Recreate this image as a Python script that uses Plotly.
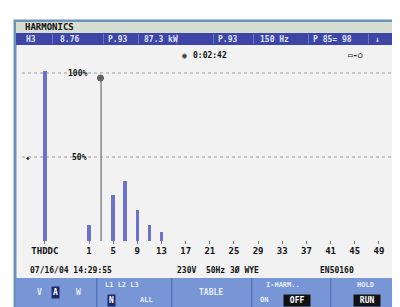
import plotly.graph_objects as go

# ---- data ----
harmonic_order = [-6.3, 1, 5, 7, 9, 11, 13]          # -6.3 = THD/DC slot
harmonic_pct = [101, 9.5, 27.6, 35.9, 18.6, 9.5, 5.4]
cursor_order = 3
cursor_pct = 97
tick_vals = [-6.3, 1, 5, 9, 13, 17, 21, 25, 29, 33, 37, 41, 45, 49]
tick_text = ["THDDC", "1", "5", "9", "13", "17", "21", "25", "29", "33", "37", "41", "45", "49"]
grid_pct = [50, 100]
grid_labels = ["50%", "100%"]

W, H = 400, 307
def px(x, y):
    return x / W, 1 - y / H

FONT = "DejaVu Sans Mono"
fig = go.Figure()

fig.add_trace(go.Bar(
    x=harmonic_order, y=harmonic_pct,
    width=[0.7, 0.6, 0.6, 0.6, 0.6, 0.6, 0.6],
    marker=dict(color="#6d72c6", line=dict(width=0)),
    hoverinfo="skip"))
fig.add_trace(go.Scatter(
    x=[cursor_order, cursor_order], y=[0, cursor_pct], mode="lines",
    line=dict(color="#8a8a8a", width=1.5), hoverinfo="skip"))
fig.add_trace(go.Scatter(
    x=[cursor_order - 0.1], y=[cursor_pct], mode="markers",
    marker=dict(symbol="circle-cross", size=6, color="#777",
                line=dict(color="#555", width=1)), hoverinfo="skip"))

shapes = []
def rect(x0, y0, x1, y1, fill, line=None, lw=0, layer="below"):
    a, b = px(x0, y1)
    c, d = px(x1, y0)
    shapes.append(dict(type="rect", xref="paper", yref="paper", x0=a, y0=b, x1=c, y1=d,
                       fillcolor=fill, line=dict(color=line or fill, width=lw), layer=layer))

# screen background + frame
rect(7, 13, 393, 302, "#f2f2f2", "#6f93b8", 3)
rect(8, 14, 392, 25, "#d6ddd2")
rect(8, 25, 392, 37, "#3d45a6")
for xs in [44, 95, 130, 168, 205, 245, 300, 318, 360]:
    rect(xs, 26, xs + 1, 36, "#6a72c4")
rect(8, 270, 392, 301, "#7896d6")
for xs in [88, 163, 243, 322]:
    rect(xs, 270, xs + 1.5, 301, "#5677bd")

# dotted gridlines
for g in grid_pct:
    shapes.append(dict(type="line", xref="paper", yref="y", x0=14 / W, x1=386 / W, y0=g, y1=g,
                       line=dict(color="#9a9a9a", width=1, dash="dot"), layer="below"))

fig.update_layout(shapes=shapes)

ann = []
def text(x, y, s, size=9, color="#111", anchor="left", bg=None, bold=True):
    a, b = px(x, y)
    ann.append(dict(xref="paper", yref="paper", x=a, y=b, text=f"<b>{s}</b>" if bold else s,
                    showarrow=False, xanchor=anchor, yanchor="middle",
                    font=dict(family=FONT, size=size, color=color),
                    bgcolor=bg, borderpad=1))

text(15, 19, "HARMONICS", 9)
hdr = [(16, "H3"), (50, "8.76"), (98, "P.93"), (134, "87.3 kW"), (208, "P.93"), (250, "150 Hz"), (303, "P 85= 98"), (365, "\u2193")]
for x, s in hdr:
    text(x, 31, s, 8, "#dfe4ff")

text(172, 47, "\u25c9", 8, "#333")
text(183, 47, "0:02:42", 8)
text(338, 47, "\u25ad-\u25cb", 8)

for g, lab in zip(grid_pct, grid_labels):
    ann.append(dict(xref="paper", yref="y", x=81 / W, y=g, text=f"<b>{lab}</b>", showarrow=False,
                    xanchor="right", yanchor="middle",
                    font=dict(family=FONT, size=8, color="#111")))
ann.append(dict(xref="paper", yref="y", x=20 / W, y=50, text="\u25c6", showarrow=False,
                xanchor="center", yanchor="middle", font=dict(family=FONT, size=6, color="#333")))

text(20, 262, "07/16/04 14:29:55", 8)
text(167, 262, "230V  50Hz 3\u00d8 WYE", 8)
text(310, 262, "EN50160", 8)

MC = "#e6ecff"
text(27, 284, "V", 8, MC)
text(43, 284, "A", 8, "#ffffff", bg="#1c2a6c")
text(66, 284, "W", 8, MC)
text(95, 277, "L1 L2 L3", 7, MC)
text(99, 292, "N", 8, "#ffffff", bg="#1c2a6c")
text(130, 292, "ALL", 7, MC)
text(203, 284, "TABLE", 8, MC, anchor="center")
text(256, 277, "I-HARM..", 7, MC)
text(250, 292, "ON", 7, MC)
text(289, 292, " OFF ", 8, "#ffffff", anchor="center", bg="#111")
text(357, 277, "HOLD", 7, MC, anchor="center")
text(359, 292, " RUN ", 8, "#ffffff", anchor="center", bg="#111")

fig.update_layout(annotations=ann)

x_per = 6.04
x_lo = 1 - (81 - 8) / x_per
x_hi = 1 + (392 - 81) / x_per
y_per = 1.68
y_bot_px, y_top_px = 236, 38
y_lo = (233 - y_bot_px) / y_per
y_hi = (233 - y_top_px) / y_per

fig.update_layout(
    width=W, height=H, margin=dict(l=0, r=0, t=0, b=0),
    paper_bgcolor="#ffffff", plot_bgcolor="rgba(0,0,0,0)",
    showlegend=False, bargap=0,
    xaxis=dict(domain=[8 / W, 392 / W], range=[x_lo, x_hi], tickvals=tick_vals, ticktext=tick_text,
               ticks="inside", ticklen=3, tickcolor="#777", showgrid=False, zeroline=False,
               showline=False, tickfont=dict(family=FONT, size=9, color="#111", weight="bold"),
               fixedrange=True),
    yaxis=dict(domain=[1 - y_bot_px / H, 1 - y_top_px / H], range=[y_lo, y_hi],
               showticklabels=False, showgrid=False, zeroline=False, ticks="", fixedrange=True),
)

fig.write_html("out.html", config={"displayModeBar": False})
